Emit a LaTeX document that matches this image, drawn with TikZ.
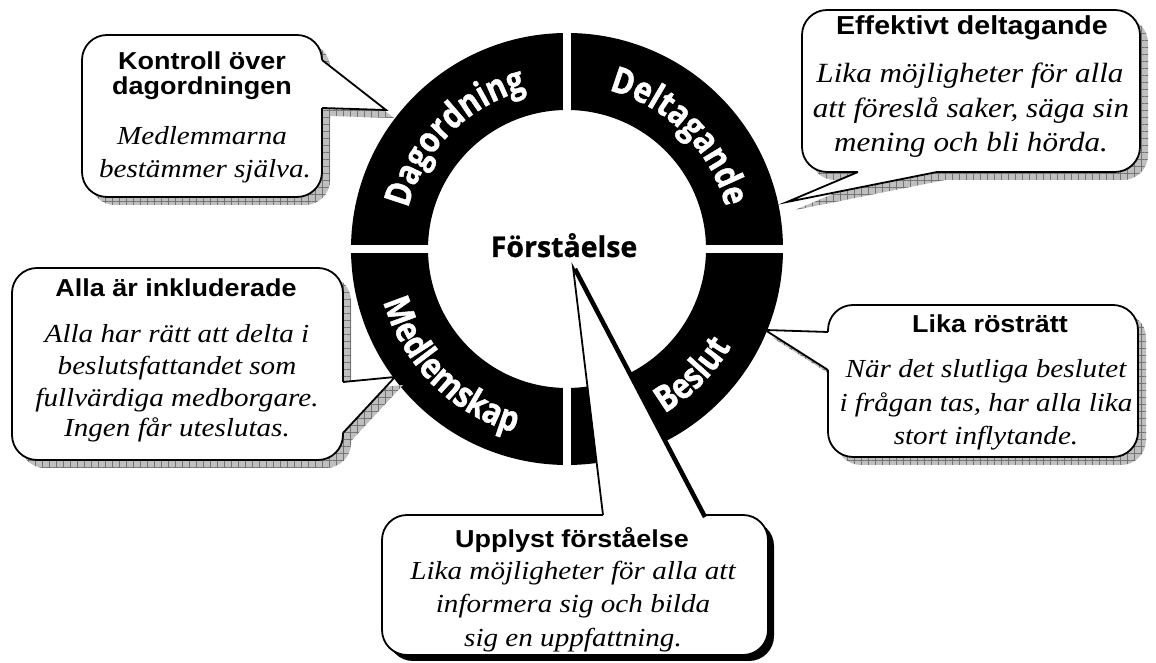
\documentclass[tikz,border=0pt]{standalone}
\usepackage{fontspec}
\setmainfont{Liberation Serif}
\newfontfamily\hdfam[FakeStretch=1.1]{Liberation Sans}
\newfontfamily\itfam[FakeStretch=1.12]{Liberation Serif}
\newfontfamily\ringfam[FakeStretch=0.84,FakeBold=1.2]{Open Sans}
\newfontfamily\ctrfam[FakeBold=0.8]{Open Sans}
\usetikzlibrary{decorations.text,calc,patterns.meta}
\newcommand{\ringtxt}{\ringfam\bfseries\fontsize{36}{36}\selectfont}
\tikzset{
  hd/.style={font=\hdfam\bfseries\fontsize{24.5}{28}\selectfont, anchor=base, inner sep=0pt},
  hdbig/.style={font=\hdfam\bfseries\fontsize{26}{30}\selectfont, anchor=base, inner sep=0pt},
  bd/.style={font=\itfam\itshape\fontsize{26}{30}\selectfont, anchor=base, inner sep=0pt},
  bdbig/.style={font=\itfam\itshape\fontsize{27.8}{32}\selectfont, anchor=base, inner sep=0pt},
  boxline/.style={draw=black, line width=1.8pt, fill=white, rounded corners=25pt},
  shadowfill/.style={fill=gray!50, postaction={pattern={Hatch[distance=7pt, angle=0, line width=0.6pt]}, pattern color=black!55}},
  darkfill/.style={fill=black},
  ptrline/.style={draw=black, line width=1.8pt, line join=miter},
  ringtext/.style={decorate, decoration={text along path, text={|\ringtxt|#1}, text align=center, text color=white}},
}
\begin{document}
\begin{tikzpicture}[x=1pt,y=1pt]
\fill[white] (0,0) rectangle (1156,663);
\useasboundingbox (0,0) rectangle (1156,663);

% ring
\coordinate (C) at (567,414);
\fill[black, even odd rule] (C) circle (216) (C) circle (139);
\draw[white, line width=8pt] ($(C)+(-225,0)$) -- ($(C)+(-130,0)$);
\draw[white, line width=8pt] ($(C)+(130,0)$) -- ($(C)+(225,0)$);
\draw[white, line width=8pt] ($(C)+(0,-225)$) -- ($(C)+(0,-130)$);
\draw[white, line width=8pt] ($(C)+(0,130)$) -- ($(C)+(0,225)$);
\begin{scope}[shift={(C)}]
  \path[ringtext={Dagordning}] (180:164) arc[start angle=180, end angle=90, radius=164];
  \path[ringtext={Deltagande}] (90:164) arc[start angle=90, end angle=0, radius=164];
  \path[ringtext={Medlemskap}] (180:191) arc[start angle=180, end angle=270, radius=191];
  \path[ringtext={Beslut}] (270:191) arc[start angle=270, end angle=360, radius=191];
\end{scope}
\node[font=\ctrfam\bfseries\fontsize{28.5}{28.5}\selectfont, anchor=base, inner sep=0pt] (ctr) at (564,406) {Förståelse};

% ---------- callout A (top left)
\coordinate (tipA) at (386,553);
\coordinate (a1b) at (322,603);
\coordinate (a2b) at (322,555);
\fill[shadowfill, rounded corners=25pt] (90,458) rectangle (330,620);
\fill[shadowfill] ($(a1b)+(8,-8)$) -- ($(tipA)+(8,-8)$) -- ($(a2b)+(8,-8)$) -- cycle;
\path[boxline] (82,466) rectangle (322,628);
\fill[white] (a1b) -- (tipA) -- (a2b) -- ($(a2b)+(-4,0)$) -- ($(a1b)+(-4,0)$) -- cycle;
\draw[ptrline] (a1b) -- (tipA) -- (a2b);
\node[hd] (ta1) at (202,593) {Kontroll över};
\node[hd] (ta2) at (202,568) {dagordningen};
\node[bd] (ta3) at (202,518) {Medlemmarna};
\node[bd] (ta4) at (205,485) {bestämmer själva.};

% ---------- callout B (top right)
\coordinate (tipB) at (787,461);
\coordinate (b1b) at (858,491);
\coordinate (b2b) at (937,491);
\fill[shadowfill, rounded corners=25pt] (810,483) rectangle (1148,645);
\fill[shadowfill] ($(b1b)+(8,-8)$) -- ($(tipB)+(8,-8)$) -- ($(b2b)+(8,-8)$) -- cycle;
\path[boxline] (802,491) rectangle (1140,653);
\fill[white] (b1b) -- (tipB) -- (b2b) -- ($(b2b)+(0,4)$) -- ($(b1b)+(0,4)$) -- cycle;
\draw[ptrline] (b1b) -- (tipB) -- (b2b);
\node[hdbig] (tb1) at (972,628) {Effektivt deltagande};
\node[bdbig] (tb2) at (970,580) {Lika möjligheter för alla};
\node[bdbig] (tb3) at (971,545) {att föreslå saker, säga sin};
\node[bdbig] (tb4) at (971,511) {mening och bli hörda.};

% ---------- callout C (left middle)
\coordinate (tipC) at (395,286);
\coordinate (c1b) at (343,281);
\coordinate (c2b) at (343,230);
\fill[shadowfill, rounded corners=25pt] (20,195) rectangle (351,387);
\fill[shadowfill] ($(c1b)+(8,-8)$) -- ($(tipC)+(8,-8)$) -- ($(c2b)+(8,-8)$) -- cycle;
\path[boxline] (12,203) rectangle (343,395);
\fill[white] (c1b) -- (tipC) -- (c2b) -- ($(c2b)+(-4,0)$) -- ($(c1b)+(-4,0)$) -- cycle;
\draw[ptrline] (c1b) -- (tipC) -- (c2b);
\node[hd] (tc1) at (176,366) {Alla är inkluderade};
\node[bd] (tc2) at (177,320) {Alla har rätt att delta i};
\node[bd] (tc3) at (177,288) {beslutsfattandet som};
\node[bd] (tc4) at (177,256) {fullvärdiga medborgare.};
\node[bd] (tc5) at (177,226) {Ingen får uteslutas.};

% ---------- callout D (right middle)
\coordinate (tipD) at (765,333);
\coordinate (d1b) at (828,331);
\coordinate (d2b) at (828,293);
\fill[shadowfill, rounded corners=25pt] (836,198) rectangle (1146,350);
\fill[shadowfill] ($(d1b)+(8,-8)$) -- ($(tipD)+(8,-8)$) -- ($(d2b)+(8,-8)$) -- cycle;
\path[boxline] (828,206) rectangle (1138,358);
\fill[white] (d1b) -- (tipD) -- (d2b) -- ($(d2b)+(4,0)$) -- ($(d1b)+(4,0)$) -- cycle;
\draw[ptrline] (d1b) -- (tipD) -- (d2b);
\node[hd] (td1) at (990,330) {Lika rösträtt};
\node[bd] (td2) at (986,285) {När det slutliga beslutet};
\node[bd] (td3) at (986,251) {i frågan tas, har alla lika};
\node[bd] (td4) at (986,218) {stort inflytande.};

% ---------- callout E (bottom)
\coordinate (tipE) at (573,396);
\coordinate (e1b) at (603,148);
\coordinate (e2b) at (703,148);
\fill[darkfill, rounded corners=25pt] (388,2) rectangle (774,142);
\fill[darkfill] ($(e1b)+(6,-6)$) -- ($(tipE)+(6,-6)$) -- ($(e2b)+(6,-6)$) -- cycle;
\path[boxline] (382,8) rectangle (768,148);
\fill[white] (e1b) -- (tipE) -- (e2b) -- ($(e2b)+(0,-4)$) -- ($(e1b)+(0,-4)$) -- cycle;
\draw[ptrline] (e1b) -- (tipE) -- (e2b);
\draw[black, line width=4.5pt] ($(tipE)+(2,-2)$) -- ($(e2b)+(2,-2)$);
\node[hd] (te1) at (572,115) {Upplyst förståelse};
\node[bd] (te2) at (573,83) {Lika möjligheter för alla att};
\node[bd] (te3) at (573,50) {informera sig och bilda};
\node[bd] (te4) at (573,16) {sig en uppfattning.};
\end{tikzpicture}
\end{document}
